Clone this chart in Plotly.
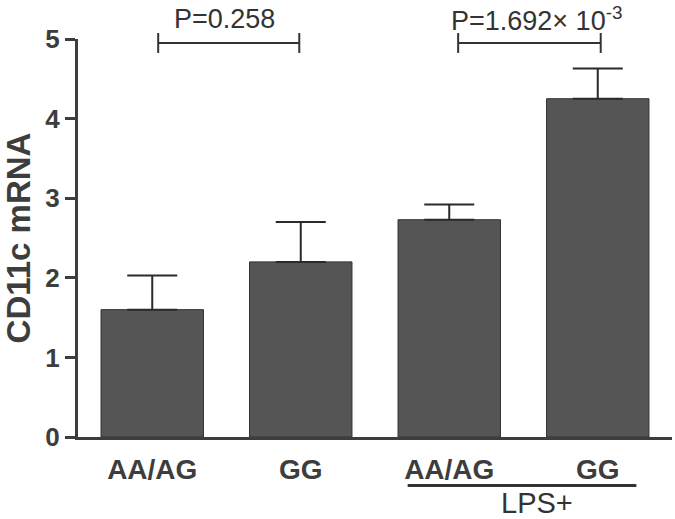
import plotly.graph_objects as go

categories = ["AA/AG", "GG", "AA/AG ", "GG "]
tick_labels = ["AA/AG", "GG", "AA/AG", "GG"]
means = [1.60, 2.20, 2.73, 4.25]
sem = [0.43, 0.50, 0.19, 0.38]
y_ticks = [0, 1, 2, 3, 4, 5]

# comparison brackets: (start index, end index, label)
brackets = [
    (0.04, 0.99, "P=0.258"),
    (2.06, 3.02, "P=1.692× 10<sup>-3</sup>"),
]
bracket_y = 4.95
label_y = 5.25
group_label = "LPS+"
group_span = (1.72, 3.26)

YMAX = 5.0
AX = "#3d3d3d"
FONT = "Liberation Sans, Arial, sans-serif"

fig = go.Figure()
fig.add_trace(go.Bar(
    x=list(range(len(categories))), y=means,
    width=0.69,
    marker=dict(color="#555555", line=dict(color="#333333", width=1)),
    error_y=dict(type="data", array=sem, symmetric=False,
                 arrayminus=[0] * len(sem),
                 color="#2a2a2a", thickness=2, width=25),
))

def py(v):
    return v / YMAX

shapes = []
annotations = []
for x0, x1, lab in brackets:
    shapes.append(dict(type="line", xref="x", yref="paper", x0=x0, x1=x1,
                       y0=py(bracket_y), y1=py(bracket_y),
                       line=dict(color="#333333", width=2)))
    for xx in (x0, x1):
        shapes.append(dict(type="line", xref="x", yref="paper", x0=xx, x1=xx,
                           y0=py(bracket_y - 0.125), y1=py(bracket_y + 0.125),
                           line=dict(color="#333333", width=2)))
    annotations.append(dict(x=(x0 + x1) / 2 + (0.05 if "sup" in lab else -0.03),
                            y=py(label_y), xref="x", yref="paper",
                            yanchor="middle",
                            text=lab, showarrow=False,
                            font=dict(family=FONT, size=27, color="#333333")))

shapes.append(dict(type="line", xref="x", yref="paper",
                   x0=group_span[0], x1=group_span[1],
                   y0=py(-0.61), y1=py(-0.61),
                   line=dict(color="#333333", width=3)))
annotations.append(dict(x=(group_span[0] + group_span[1]) / 2 + 0.1,
                        y=py(-0.83), xref="x", yref="paper", yanchor="middle",
                        text=group_label, showarrow=False,
                        font=dict(family=FONT, size=29, color="#333333")))

fig.update_layout(
    width=675, height=519,
    margin=dict(l=78, r=3, t=39, b=81.5),
    paper_bgcolor="white", plot_bgcolor="white",
    showlegend=False,
    shapes=shapes, annotations=annotations,
    font=dict(family=FONT, color=AX),
)
fig.update_xaxes(
    range=[-0.5, 3.5], tickmode="array",
    tickvals=list(range(len(categories))), ticktext=tick_labels,
    showline=True, linecolor=AX, linewidth=3, ticks="",
    ticklabelstandoff=5,
    tickfont=dict(family=FONT, size=28, color=AX, weight="bold"),
    showgrid=False, zeroline=False,
)
fig.update_yaxes(
    range=[0, YMAX], tickmode="array", tickvals=y_ticks,
    showline=True, linecolor=AX, linewidth=3,
    ticks="outside", ticklen=10, tickwidth=3, tickcolor=AX,
    tickfont=dict(family=FONT, size=26, color=AX, weight="bold"),
    showgrid=False, zeroline=False, automargin=False,
    title=dict(text="CD11c mRNA", standoff=28,
               font=dict(family=FONT, size=33, color=AX, weight="bold")),
)
fig.write_html("out.html", config={"displayModeBar": False},
               post_script="document.body.style.margin='0px';")
